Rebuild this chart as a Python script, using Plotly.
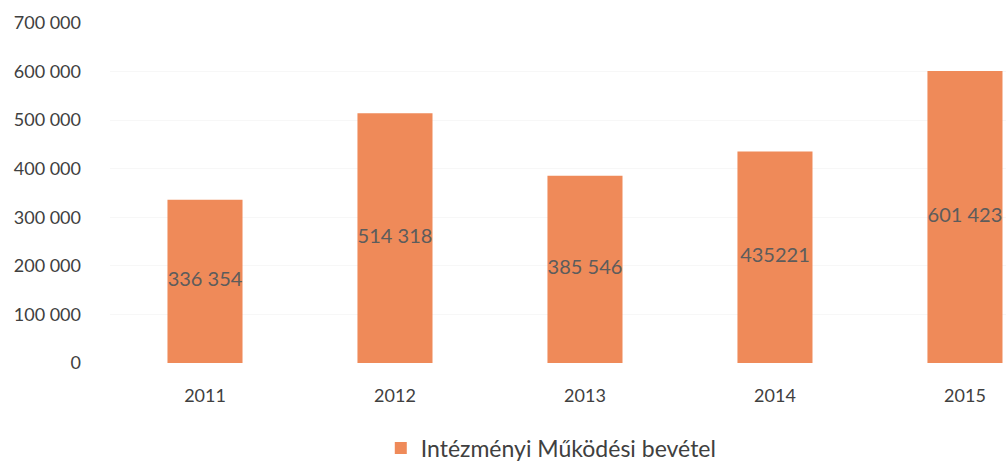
import plotly.graph_objects as go

years = ["2011", "2012", "2013", "2014", "2015"]
values = [336354, 514318, 385546, 435221, 601423]
value_labels = ["336 354", "514 318", "385 546", "435221", "601 423"]
y_ticks = [0, 100000, 200000, 300000, 400000, 500000, 600000, 700000]
y_tick_labels = ["0", "100 000", "200 000", "300 000", "400 000", "500 000", "600 000", "700 000"]
series_name = "Intézményi Működési bevétel"

font_family = "Lato, 'Open Sans', sans-serif"
bar_color = "#EF8A59"

fig = go.Figure()
fig.add_trace(go.Bar(
    x=years, y=values, name=series_name,
    marker=dict(color=bar_color, line=dict(width=0)),
    width=0.395,
))
fig.add_trace(go.Scatter(
    x=years, y=[v / 2 for v in values], mode="text",
    text=value_labels, textposition="middle center",
    textfont=dict(family=font_family, size=20, color="#5c5c5c"),
    showlegend=False, hoverinfo="skip",
))

fig.update_layout(
    width=1006, height=461,
    margin=dict(l=110, r=0, t=23, b=98, autoexpand=False),
    paper_bgcolor="white", plot_bgcolor="white",
    font=dict(family=font_family, color="#404040"),
    showlegend=True,
    legend=dict(
        orientation="h", xref="container", yref="container",
        x=0.548, xanchor="center", y=(461 - 448) / 461, yanchor="middle",
        font=dict(family=font_family, size=23, color="#404040"),
        itemwidth=30,
    ),
)
fig.update_xaxes(
    type="category", range=[-0.5, 4.216], automargin=False,
    showline=False, showgrid=False, ticks="",
    tickfont=dict(family=font_family, size=18, color="#404040"),
    ticklabelstandoff=20,
)
fig.update_yaxes(
    range=[0, 700000], tickvals=y_ticks, ticktext=y_tick_labels, automargin=False,
    showgrid=True, gridcolor="#f7f7f7", gridwidth=1,
    zeroline=False, showline=False, ticks="",
    tickfont=dict(family=font_family, size=18, color="#404040"),
    ticklabelstandoff=28,
)

fig.write_html(
    "out.html",
    config={"displayModeBar": False},
    post_script="document.body.style.margin='0';document.body.style.overflow='hidden';",
)
